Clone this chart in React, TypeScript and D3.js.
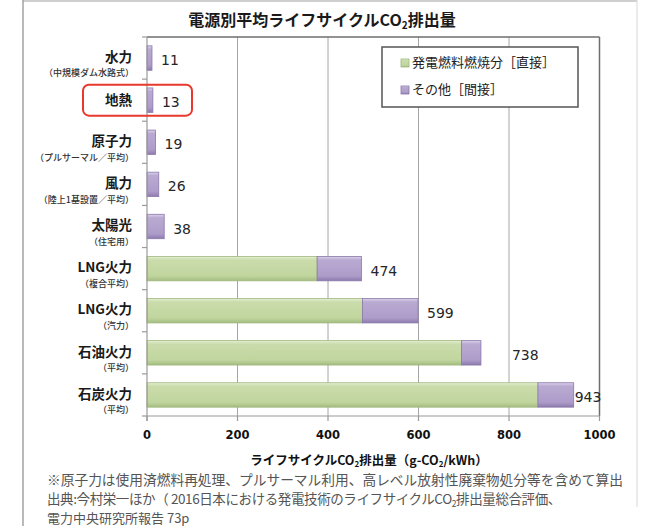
import React from "react";
import * as d3 from "d3";

const categories = ["水力", "地熱", "原子力", "風力", "太陽光", "LNG火力", "LNG火力", "石油火力", "石炭火力"];
const subLabels = [
  "（中規模ダム水路式）",
  "",
  "（プルサーマル／平均）",
  "（陸上1基設置／平均）",
  "（住宅用）",
  "（複合平均）",
  "（汽力）",
  "（平均）",
  "（平均）",
];
const directValues = [0, 0, 0, 0, 0, 376, 476, 695, 864];
const indirectValues = [11, 13, 19, 26, 38, 98, 123, 43, 79];
const xTicks = [0, 200, 400, 600, 800, 1000];
const seriesNames = ["発電燃料燃焼分［直接］", "その他［間接］"];

const width = 646;
const height = 526;
const margin = { top: 37, right: 45, bottom: 110, left: 147 };
const JP = "'Noto Sans CJK JP', 'Noto Sans', sans-serif";
const NUM = "'DejaVu Sans', Verdana, sans-serif";

// Excel had a couple of labels dragged by hand
const labelShift: Record<number, number> = { 7: 22, 8: -8 };

const App = () => {
  const rows = categories.map((c, i) => ({
    i,
    direct: directValues[i],
    indirect: indirectValues[i],
  }));

  const x = d3
    .scaleLinear()
    .domain([0, 1000])
    .range([margin.left, width - margin.right - 1.5]);
  const y = d3
    .scaleBand<number>()
    .domain(rows.map(d => d.i))
    .range([margin.top, height - margin.bottom])
    .paddingInner(0.42)
    .paddingOuter(0.21);

  const stacked = d3.stack<any>().keys(["direct", "indirect"])(rows);
  const fills = ["url(#gGreen)", "url(#gPurple)"];
  const strokes = ["#9fb87c", "#8a78ab"];

  const plotTop = margin.top;
  const plotBottom = height - margin.bottom;
  const plotLeft = x(0);
  const plotRight = x(1000);
  const boundaries = d3.range(categories.length + 1).map(k => plotTop + (plotBottom - plotTop) * (k / categories.length));

  return (
    <svg
      width={width}
      height={height}
      viewBox={`0 0 ${width} ${height}`}
      style={{ position: "absolute", left: 0, top: 0, background: "#fff" }}
    >
      <defs>
        <linearGradient id="gGreen" x1="0" y1="0" x2="0" y2="1">
          <stop offset="0%" stopColor="#e6efd6" />
          <stop offset="14%" stopColor="#cadcab" />
          <stop offset="80%" stopColor="#c0d59e" />
          <stop offset="100%" stopColor="#a3bc80" />
        </linearGradient>
        <linearGradient id="gPurple" x1="0" y1="0" x2="0" y2="1">
          <stop offset="0%" stopColor="#dcd3ea" />
          <stop offset="14%" stopColor="#b9aad2" />
          <stop offset="80%" stopColor="#ad9cc9" />
          <stop offset="100%" stopColor="#8c7aae" />
        </linearGradient>
      </defs>

      {/* outer frame */}
      <line x1={23} x2={23} y1={0} y2={height} stroke="#8a8a8a" strokeWidth={1.2} />
      <line x1={23} x2={637} y1={1} y2={1} stroke="#a0a0a0" strokeWidth={1.2} />
      <line x1={637} x2={637} y1={0} y2={507} stroke="#d8d8d8" strokeWidth={1} />

      {/* title */}
      <text x={322} y={22} textAnchor="middle" dominantBaseline="middle" fontFamily={JP} fontWeight={700} fontSize={16} fill="#1a1a1a">
        電源別平均ライフサイクルCO
        <tspan fontSize={10} dy={4}>2</tspan>
        <tspan dy={-4}>排出量</tspan>
      </text>

      {/* grid */}
      {xTicks.slice(1, -1).map(t => (
        <line key={t} x1={x(t)} x2={x(t)} y1={plotTop} y2={plotBottom} stroke="#a6a6a6" strokeWidth={1} />
      ))}
      <line x1={plotLeft} x2={plotRight} y1={plotTop} y2={plotTop} stroke="#6e6e6e" strokeWidth={1.5} />
      <line x1={plotRight} x2={plotRight} y1={plotTop} y2={plotBottom} stroke="#6e6e6e" strokeWidth={1.5} />

      {/* bars */}
      {stacked.map((s, si) =>
        s.map((d, k) => {
          const w = x(d[1]) - x(d[0]);
          if (w <= 0) return null;
          return (
            <rect
              key={`${si}-${k}`}
              x={x(d[0])}
              y={y(k)}
              width={w}
              height={y.bandwidth()}
              fill={fills[si]}
              stroke={strokes[si]}
              strokeWidth={0.8}
            />
          );
        })
      )}

      {/* axes */}
      <line x1={plotLeft} x2={plotLeft} y1={plotTop} y2={plotBottom + 5} stroke="#9a9a9a" strokeWidth={1.2} />
      {boundaries.map((b, k) => (
        <line key={k} x1={plotLeft - 5} x2={plotLeft} y1={b} y2={b} stroke="#9a9a9a" strokeWidth={1.2} />
      ))}
      <line x1={plotLeft} x2={plotRight} y1={plotBottom} y2={plotBottom} stroke="#9a9a9a" strokeWidth={1.2} />
      {xTicks.map(t => (
        <g key={t}>
          <line x1={x(t)} x2={x(t)} y1={plotBottom} y2={plotBottom + 5} stroke="#9a9a9a" strokeWidth={1.2} />
          <text x={x(t)} y={plotBottom + 19} textAnchor="middle" dominantBaseline="middle" fontFamily={NUM} fontWeight={700} fontSize={11.5} fill="#111">
            {t}
          </text>
        </g>
      ))}

      {/* category labels */}
      {rows.map(d => {
        const cy = (y(d.i) ?? 0) + y.bandwidth() / 2;
        return (
          <g key={d.i}>
            <text x={132} y={cy + (subLabels[d.i] ? 0 : 1)} textAnchor="end" dominantBaseline="middle" fontFamily={JP} fontWeight={700} fontSize={13.5} fill="#1a1a1a">
              {categories[d.i]}
            </text>
            {subLabels[d.i] && (
              <text x={134} y={cy + 16} textAnchor="end" dominantBaseline="middle" fontFamily={JP} fontWeight={500} fontSize={9} fill="#333">
                {subLabels[d.i]}
              </text>
            )}
          </g>
        );
      })}

      {/* value labels */}
      {rows.map(d => {
        const total = d.direct + d.indirect;
        const cy = (y(d.i) ?? 0) + y.bandwidth() / 2;
        return (
          <text key={d.i} x={x(total) + 9 + (labelShift[d.i] ?? 0)} y={cy + 3} dominantBaseline="middle" fontFamily={NUM} fontSize={14} fill="#262626">
            {total}
          </text>
        );
      })}

      {/* highlight around 地熱 */}
      <rect
        x={83}
        y={(y(1) ?? 0) + y.bandwidth() / 2 - 15.5}
        width={109}
        height={31}
        rx={6}
        fill="none"
        stroke="#e8392c"
        strokeWidth={2}
      />

      {/* legend */}
      <rect x={382} y={47} width={196} height={60} fill="#fff" stroke="#555" strokeWidth={1.5} />
      {seriesNames.map((n, i) => (
        <g key={n} transform={`translate(401,${63 + i * 27})`}>
          <rect x={0} y={-4} width={8} height={8} fill={fills[i]} stroke={strokes[i]} strokeWidth={0.8} />
          <text x={11} y={0} dominantBaseline="middle" fontFamily={JP} fontSize={13} fill="#222">
            {n}
          </text>
        </g>
      ))}

      {/* x axis title */}
      <text x={369} y={462} textAnchor="middle" dominantBaseline="middle" fontFamily={JP} fontWeight={700} fontSize={12.5} fill="#111">
        ライフサイクルCO
        <tspan fontSize={8} dy={3}>2</tspan>
        <tspan dy={-3}>排出量（g-CO</tspan>
        <tspan fontSize={8} dy={3}>2</tspan>
        <tspan dy={-3}>/kWh）</tspan>
      </text>

      {/* notes */}
      <text x={47} y={485} fontFamily={JP} fontSize={14} fill="#555" textLength={576} lengthAdjust="spacingAndGlyphs">
        ※原子力は使用済燃料再処理、プルサーマル利用、高レベル放射性廃棄物処分等を含めて算出
      </text>
      <text x={47} y={504} fontFamily={JP} fontSize={13.5} fill="#555" letterSpacing={-0.4}>
        出典:今村栄一ほか（ 2016日本における発電技術のライフサイクルCO
        <tspan fontSize={8.5} dy={3}>2</tspan>
        <tspan dy={-3}>排出量総合評価、</tspan>
      </text>
      <text x={47} y={523} fontFamily={JP} fontSize={13} fill="#555">
        電力中央研究所報告 73p
      </text>
    </svg>
  );
};

export default App;
